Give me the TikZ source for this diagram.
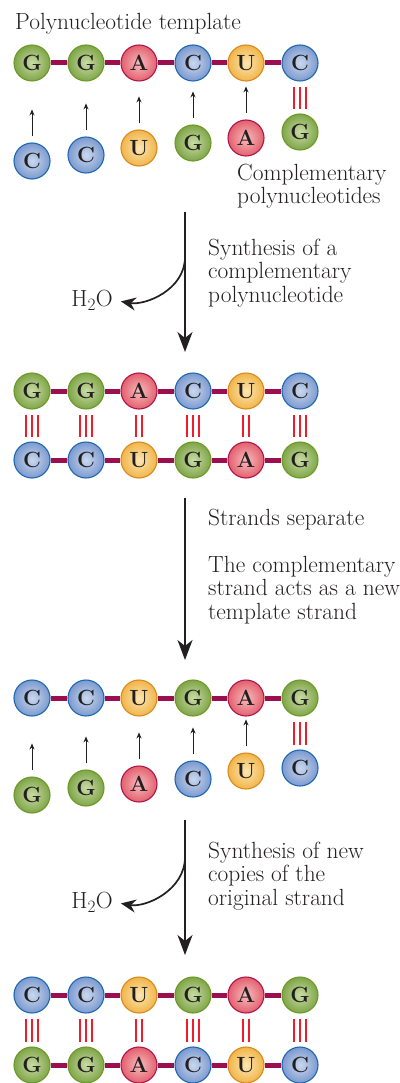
\documentclass[tikz,border=0pt]{standalone}
\usepackage{amsmath,amssymb}
\usepackage{fontspec}
\usepackage{xcolor}
\usepackage{tikz}
\usetikzlibrary{calc,arrows.meta}
\definecolor{ink}{HTML}{231F20}
\definecolor{gfill}{HTML}{7FA548}
\definecolor{gin}{HTML}{C9DCA6}
\definecolor{gline}{HTML}{6D9A26}
\definecolor{afill}{HTML}{E2606E}
\definecolor{ain}{HTML}{F8BDBE}
\definecolor{aline}{HTML}{B0154A}
\definecolor{cfill}{HTML}{7C9ACF}
\definecolor{cin}{HTML}{CAD8EE}
\definecolor{cline}{HTML}{1E67B1}
\definecolor{ufill}{HTML}{F1B54A}
\definecolor{uin}{HTML}{FCE6B2}
\definecolor{uline}{HTML}{D88A1E}
\definecolor{bbcol}{HTML}{9B0F50}
\definecolor{hbcol}{HTML}{EE1D2B}
\newcommand{\ntfont}{\fontsize{22}{22}\selectfont\bfseries}
\newcommand{\labfont}{\fontsize{23.4}{23.3}\selectfont}
\tikzset{
  nt/.style={circle, minimum size=36pt, inner sep=0pt, line width=1.1pt, font=\ntfont, text=ink},
  ntG/.style={nt, draw=gline, inner color=gin, outer color=gfill},
  ntA/.style={nt, draw=aline, inner color=ain, outer color=afill},
  ntC/.style={nt, draw=cline, inner color=cin, outer color=cfill},
  ntU/.style={nt, draw=uline, inner color=uin, outer color=ufill},
  bb/.style={draw=bbcol, line width=5pt},
  hb/.style={draw=hbcol, line width=1.4pt, shorten <=5pt, shorten >=4pt},
  hop/.style={draw=ink, line width=0.9pt, -{Stealth[length=6pt,width=5pt]}},
  flow/.style={draw=ink, line width=1.7pt, -{Stealth[length=20pt,width=15pt,inset=6pt]}},
  side/.style={draw=ink, line width=1.7pt, shorten >=8pt, -{Stealth[length=15pt,width=13pt,inset=5pt]}},
  lab/.style={text=ink, font=\labfont, align=left, anchor=west, inner sep=0pt},
}
\newcommand{\hbGC}[2]{\foreach \s in {-6,0,6} \draw[hb] ([xshift=\s pt]#1.south) -- ([xshift=\s pt]#2.north);}
\newcommand{\hbAU}[2]{\foreach \s in {-3,3} \draw[hb] ([xshift=\s pt]#1.south) -- ([xshift=\s pt]#2.north);}

\begin{document}
\begin{tikzpicture}[x=1pt, y=-1pt]
  \useasboundingbox (0,0) rectangle (399,1083);

  % template and incoming nucleotides
  \node[lab] (tmpl) at (15,24) {Polynucleotide template};
  \foreach \b [count=\i] in {G,G,A,C,U,C}
    \node[nt\b] (t\i) at ({round(-21.6+53.6*\i)},63) {\b};
  \draw[bb] (t1)--(t2)--(t3)--(t4)--(t5)--(t6);
  \foreach \b/\dy [count=\i] in {C/98,C/92,U/85,G/80,A/75,G/69}
    \node[nt\b] (f\i) at ({round(-21.6+53.6*\i)},63+\dy) {\b};
  \foreach \i in {1,...,5} \draw[hop] ([yshift=6pt]f\i.north) -- ++(0,-27);
  \hbGC{t6}{f6}
  \node[lab] (comp) at (237,186) {Complementary\\polynucleotides};

  % first synthesis
  \coordinate (a1s) at (185,212);
  \coordinate (a1b) at (185,257);
  \coordinate (a1e) at (185,352);
  \draw[flow] (a1s) -- (a1e);
  \node[lab, anchor=east] (w1) at (113,300) {H$_2$O};
  \draw[side] (a1b) to[out=-90, in=-10] (w1.east);
  \node[lab] (syn1) at (208,273) {Synthesis of a\\complementary\\polynucleotide};

  % duplex
  \foreach \b [count=\i] in {G,G,A,C,U,C}
    \node[nt\b] (p\i) at ({round(-21.6+53.6*\i)},391) {\b};
  \foreach \b [count=\i] in {C,C,U,G,A,G}
    \node[nt\b] (q\i) at ({round(-21.6+53.6*\i)},460) {\b};
  \draw[bb] (p1)--(p2)--(p3)--(p4)--(p5)--(p6);
  \draw[bb] (q1)--(q2)--(q3)--(q4)--(q5)--(q6);
  \hbGC{p1}{q1} \hbGC{p2}{q2} \hbAU{p3}{q3}
  \hbGC{p4}{q4} \hbAU{p5}{q5} \hbGC{p6}{q6}

  % separation
  \coordinate (a2s) at (185,498);
  \coordinate (a2e) at (185,660);
  \draw[flow] (a2s) -- (a2e);
  \node[lab] (sep) at (208,520) {Strands separate};
  \node[lab] (newt) at (208,590) {The complementary\\strand acts as a new\\template strand};

  % new template
  \foreach \b [count=\i] in {C,C,U,G,A,G}
    \node[nt\b] (r\i) at ({round(-21.6+53.6*\i)},698) {\b};
  \draw[bb] (r1)--(r2)--(r3)--(r4)--(r5)--(r6);
  \foreach \b/\dy [count=\i] in {G/97,G/90,A/86,C/81,U/73,C/70}
    \node[nt\b] (s\i) at ({round(-21.6+53.6*\i)},698+\dy) {\b};
  \foreach \i in {1,...,5} \draw[hop] ([yshift=6pt]s\i.north) -- ++(0,-27);
  \hbGC{r6}{s6}

  % second synthesis
  \coordinate (a3s) at (185,820);
  \coordinate (a3b) at (185,857);
  \coordinate (a3e) at (185,955);
  \draw[flow] (a3s) -- (a3e);
  \node[lab, anchor=east] (w2) at (113,902) {H$_2$O};
  \draw[side] (a3b) to[out=-90, in=-10] (w2.east);
  \node[lab] (syn2) at (208,876) {Synthesis of new\\copies of the\\original strand};

  % final duplex
  \foreach \b [count=\i] in {C,C,U,G,A,G}
    \node[nt\b] (u\i) at ({round(-21.6+53.6*\i)},995) {\b};
  \foreach \b [count=\i] in {G,G,A,C,U,C}
    \node[nt\b] (v\i) at ({round(-21.6+53.6*\i)},1065) {\b};
  \draw[bb] (u1)--(u2)--(u3)--(u4)--(u5)--(u6);
  \draw[bb] (v1)--(v2)--(v3)--(v4)--(v5)--(v6);
  \hbGC{u1}{v1} \hbGC{u2}{v2} \hbAU{u3}{v3}
  \hbGC{u4}{v4} \hbAU{u5}{v5} \hbGC{u6}{v6}
\end{tikzpicture}
\end{document}
